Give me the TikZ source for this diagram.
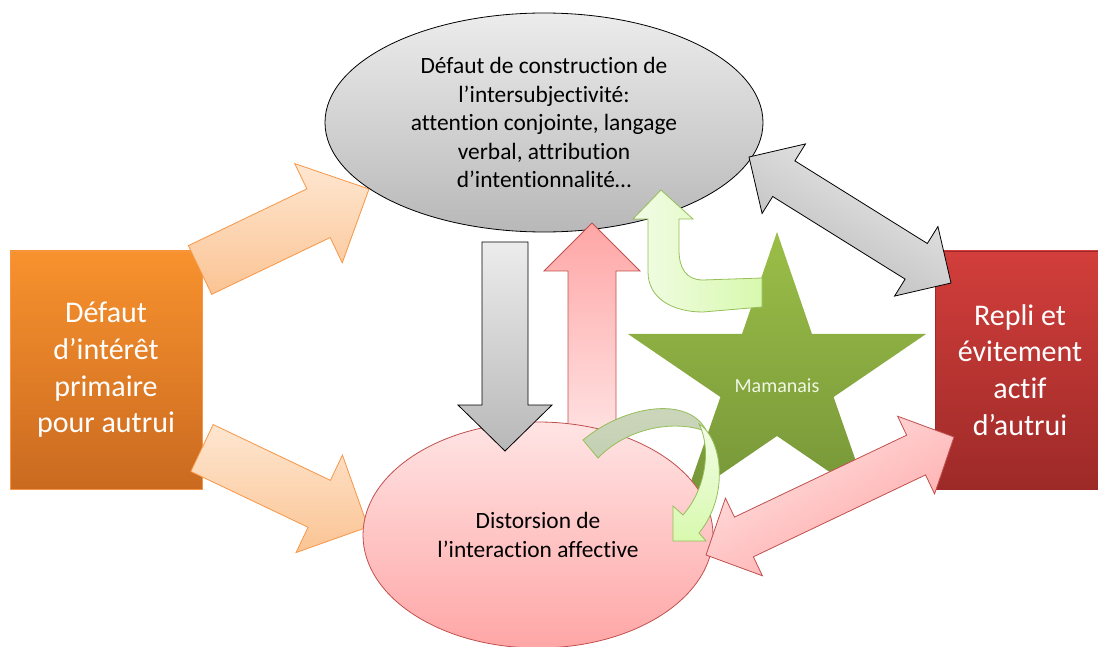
\documentclass[tikz,border=0pt]{standalone}
\usepackage{fontspec}
\setmainfont{Carlito}[Ligatures={TeX,NoCommon}]
\usetikzlibrary{%
    calc,%
    shapes.geometric%
}
\definecolor{orangetop}{RGB}{248,146,46}
\definecolor{orangebot}{RGB}{202,106,32}
\definecolor{orangeline}{RGB}{247,150,70}
\definecolor{peachtop}{RGB}{254,230,208}
\definecolor{peachbot}{RGB}{251,196,148}
\definecolor{redtop}{RGB}{210,62,59}
\definecolor{redbot}{RGB}{157,42,40}
\definecolor{pinkline}{RGB}{192,80,77}
\definecolor{pinktop}{RGB}{255,228,228}
\definecolor{pinkbot}{RGB}{255,166,166}
\definecolor{greytop}{RGB}{236,236,236}
\definecolor{greybot}{RGB}{184,184,184}
\definecolor{stargreen}{RGB}{155,190,72}
\definecolor{stardark}{RGB}{118,150,56}
\definecolor{leaftop}{RGB}{242,252,230}
\definecolor{leafbot}{RGB}{216,249,174}
\definecolor{leafback}{RGB}{196,208,178}
\definecolor{leafline}{RGB}{150,190,90}

% block arrows: style, from, to, half shaft, half head, head length
\newcommand{\fatarrow}[6]{%
  \coordinate (fa-h) at ($(#3)!#6!(#2)$);
  \draw[#1] ($(#2)!#4!90:(#3)$) -- ($(fa-h)!#4!90:(#3)$) -- ($(fa-h)!#5!90:(#3)$)
    -- (#3) -- ($(fa-h)!#5!-90:(#3)$) -- ($(fa-h)!#4!-90:(#3)$)
    -- ($(#2)!#4!-90:(#3)$) -- cycle;
}
\newcommand{\fatdarrow}[6]{%
  \coordinate (fa-h) at ($(#3)!#6!(#2)$);
  \coordinate (fa-t) at ($(#2)!#6!(#3)$);
  \draw[#1] (#2) -- ($(fa-t)!#5!90:(#3)$) -- ($(fa-t)!#4!90:(#3)$)
    -- ($(fa-h)!#4!90:(#3)$) -- ($(fa-h)!#5!90:(#3)$) -- (#3)
    -- ($(fa-h)!#5!-90:(#3)$) -- ($(fa-h)!#4!-90:(#3)$)
    -- ($(fa-t)!#4!-90:(#3)$) -- ($(fa-t)!#5!-90:(#3)$) -- cycle;
}

\begin{document}
\begin{tikzpicture}[
  x=1pt, y=-1pt,
  boite/.style={rectangle, minimum height=238pt, inner sep=0pt,
    align=center, text=white, font={\fontsize{30}{36.7}\selectfont}},
  bulle/.style={ellipse, inner sep=0pt, align=center, line width=.8pt,
    font={\fontsize{23.4}{28.5}\selectfont}},
  peach/.style={draw=orangeline, line width=.8pt, top color=peachtop,
    bottom color=peachbot},
  grise/.style={draw=black, line width=.8pt, top color=greytop, bottom color=greybot},
  rose/.style={draw=pinkline, line width=.8pt},
  feuille/.style={draw=leafline, line width=.8pt},
  ]
  \useasboundingbox (0,0) rectangle (1098,647);

  % the two boxes
  \node[boite, minimum width=192pt, top color=orangetop, bottom color=orangebot,
    draw=orangeline] (defaut) at (106,370) {Défaut\\d’intérêt\\primaire\\pour autrui};
  \node[boite, minimum width=170pt, top color=redtop, bottom color=redbot,
    draw=redbot] (repli) at (1020,370) {Repli et\\évitement\\actif\\d’autrui};

  % orange arrows out of the left box
  \coordinate (o1a) at (200,270);
  \coordinate (o1b) at (369,189);
  \coordinate (o2a) at (202,448);
  \coordinate (o2b) at (368,527);
  \fatarrow{peach}{o1a}{o1b}{27pt}{55pt}{56pt}
  \fatarrow{peach}{o2a}{o2b}{26pt}{54pt}{54pt}

  % star
  \coordinate (etoile) at (777,379.6);
  \shade[top color=stargreen, bottom color=stardark]
    ($(etoile)+(90:156.7pt and 147.6pt)$)
    \foreach \a [evaluate=\a as \b using \a+36, evaluate=\a as \c using \a+72]
      in {90,162,234,306,378} {
      -- ($(etoile)+(\b:59.5pt and 56.4pt)$) -- ($(etoile)+(\c:156.7pt and 147.6pt)$)
    } -- cycle;
  \node[text={rgb,255:red,240;green,246;blue,228}, font={\fontsize{20}{24}\selectfont}]
    (mamanais) at (777,386) {Mamanais};

  % upper ellipse
  \node[bulle, grise, minimum width=438pt, minimum height=219pt] (intersub) at (544,122.5)
    {Défaut de construction de\\l’intersubjectivité:\\attention conjointe, langage\\verbal, attribution\\d’intentionnalité…};

  % up arrow, then lower ellipse over it
  \coordinate (upa) at (592,445);
  \coordinate (upb) at (592,223);
  \fatarrow{rose, top color=pinkbot, bottom color=pinktop}{upa}{upb}{24pt}{48pt}{48pt}
  \node[bulle, draw=pinkline, top color=pinktop, bottom color=pinkbot,
    minimum width=350pt, minimum height=226pt] (distorsion) at (538,535)
    {Distorsion de\\l’interaction affective};

  % down arrow
  \coordinate (dna) at (505,242);
  \coordinate (dnb) at (505,451);
  \fatarrow{grise}{dna}{dnb}{23pt}{47pt}{46pt}

  % bent arrow from the star
  \draw[feuille, left color=leaftop, right color=leafbot]
    (762,278) -- (703,280) .. controls (686,280) and (679,268) .. (679,250)
    -- (679,219) -- (693,219) -- (661,190) -- (633,219) -- (648,219) -- (648,272)
    .. controls (648,298) and (672,312) .. (703,312) -- (762,307) -- cycle;

  % curved arrow, back then front
  \draw[feuille, top color=leafback!85!white, bottom color=leafback]
    (583,440) .. controls (625,405) and (690,395) .. (707,432)
    .. controls (680,420) and (630,425) .. (598,458) -- cycle;
  \draw[feuille, top color=leaftop, bottom color=leafbot]
    (699,424) .. controls (722,438) and (730,495) .. (699,533)
    -- (706,541) -- (673,541) -- (673,506) -- (683,515)
    .. controls (705,490) and (712,450) .. (699,424) -- cycle;

  % double arrows to the right box
  \coordinate (gda) at (749,157);
  \coordinate (gdb) at (951,283);
  \fatdarrow{grise, shading angle=-30}{gda}{gdb}{21pt}{41pt}{41pt}
  \coordinate (pda) at (706,555);
  \coordinate (pdb) at (954,437);
  \fatdarrow{rose, top color=pinktop, bottom color=pinkbot, shading angle=30}{pda}{pdb}{22pt}{43pt}{42pt}
\end{tikzpicture}
\end{document}
